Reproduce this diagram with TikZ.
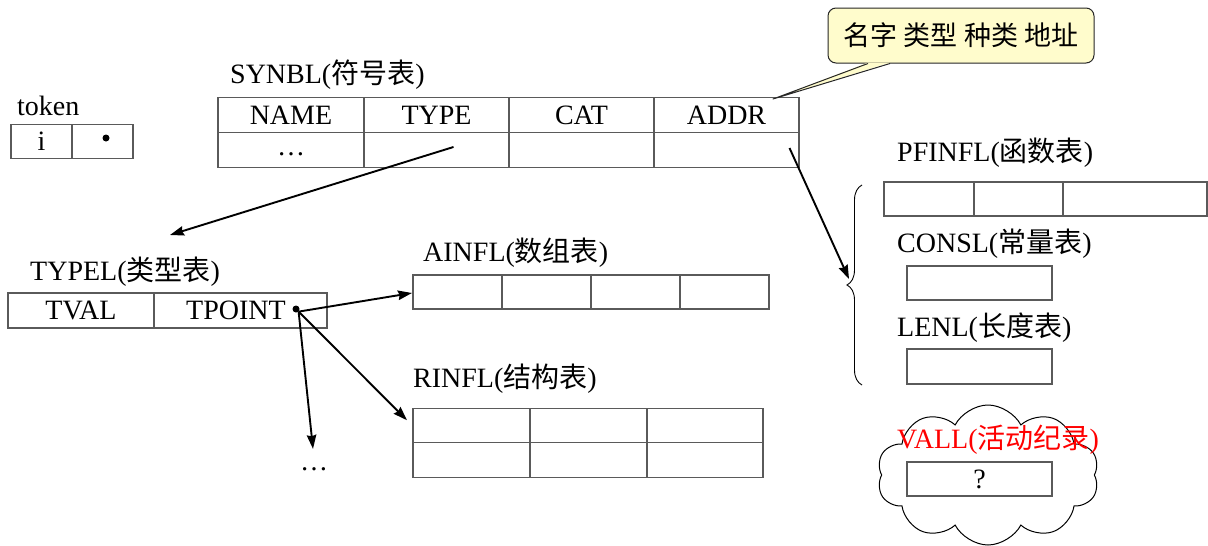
\documentclass[tikz,border=0pt]{standalone}
\usepackage{fontspec}
\setmainfont{Liberation Serif}
\newfontfamily\cjk{Noto Sans CJK SC}
\usetikzlibrary{arrows.meta,shapes.symbols,decorations.pathreplacing}
\definecolor{notefill}{RGB}{255,252,204}
\definecolor{gridline}{RGB}{90,90,90}
\begin{document}
\begin{tikzpicture}[x=1pt,y=-1pt,
  every node/.style={font=\fontsize{28}{32}\selectfont},
  cell/.style={draw=gridline,line width=1.1pt,minimum height=35,inner sep=0,outer sep=0},
  title/.style={anchor=base west,inner sep=0},
  arr/.style={-{Stealth[length=14pt,width=9.5pt,inset=1.5pt]},line width=1.9pt},
  ptr/.style={circle,fill=black,inner sep=0,minimum size=7pt},
  notebox/.style={draw=black!85,fill=notefill,line width=1pt,rounded corners=8pt,
    minimum width=266,minimum height=55,inner sep=0,font=\cjk\fontsize{27}{30}\selectfont}]
\useasboundingbox (0,0) rectangle (1208,546);

% activation record cloud, behind the VALL table
\node[cloud,draw,line width=1pt,cloud puffs=10,cloud puff arc=125,
  minimum width=222,minimum height=140] (cloud) at (988,475) {};

% token
\node[title] (tok) at (17,115) {token};
\node[cell,minimum width=61,minimum height=34] (ti) at (41.5,141.5) {i};
\node[cell,minimum width=61,minimum height=34] (tp) at (102.5,141.5) {};
\node[ptr] (tpd) at (106,138) {};

% SYNBL
\node[title] (synbl) at (230,83) {SYNBL({\cjk 符号表})};
\node[cell,minimum width=146] (sn) at (291,115) {NAME};
\node[cell,minimum width=145] (st) at (436.5,115) {TYPE};
\node[cell,minimum width=145] (sc) at (581.5,115) {CAT};
\node[cell,minimum width=145] (sa) at (726.5,115) {ADDR};
\node[cell,minimum width=146] (sn2) at (291,150) {};
\node[cell,minimum width=145] (st2) at (436.5,150) {};
\node[cell,minimum width=145] (sc2) at (581.5,150) {};
\node[cell,minimum width=145] (sa2) at (726.5,150) {};
\node[inner sep=0] (sdots) at (291,154) {…};

% callout
\node[notebox] (note) at (961,35.5) {名字 类型 种类 地址};
\coordinate (notetip) at ([shift={(-26,1.5)}]sa.north east);
\fill[notefill] ([shift={(-93,-1)}]note.south) -- (notetip) -- ([shift={(-71,-1)}]note.south) -- cycle;
\draw[notefill,line width=1.6pt] ([shift={(-92,0)}]note.south) -- ([shift={(-72,0)}]note.south);
\draw[black!85,line width=1pt,line join=round] ([shift={(-93,0)}]note.south) -- (notetip) -- ([shift={(-71,0)}]note.south);

% TYPEL
\node[title] (typel) at (30,280) {TYPEL({\cjk 类型表})};
\node[cell,minimum width=146] (tv) at (81,310.5) {TVAL};
\node[cell,minimum width=173] (tpt) at (240.5,310.5) {};
\node[inner sep=0] (tptx) at (236,310.5) {TPOINT};
\node[ptr] (tdot) at (296,309) {};

% AINFL
\node[title] (ainfl) at (423,261) {AINFL({\cjk 数组表})};
\node[cell,minimum width=89,minimum height=34] (a1) at (457.5,292) {};
\node[cell,minimum width=89,minimum height=34] (a2) at (546.5,292) {};
\node[cell,minimum width=89,minimum height=34] (a3) at (635.5,292) {};
\node[cell,minimum width=89,minimum height=34] (a4) at (724.5,292) {};

% RINFL
\node[title] (rinfl) at (413,387) {RINFL({\cjk 结构表})};
\node[cell,minimum width=117,minimum height=34.5] (r11) at (471.5,425.5) {};
\node[cell,minimum width=117,minimum height=34.5] (r12) at (588.5,425.5) {};
\node[cell,minimum width=116,minimum height=34.5] (r13) at (705,425.5) {};
\node[cell,minimum width=117,minimum height=34.5] (r21) at (471.5,460) {};
\node[cell,minimum width=117,minimum height=34.5] (r22) at (588.5,460) {};
\node[cell,minimum width=116,minimum height=34.5] (r23) at (705,460) {};

\node[inner sep=0,anchor=base] (more) at (314,470) {…};

% PFINFL, CONSL, LENL, VALL
\node[title] (pfinfl) at (897,161) {PFINFL({\cjk 函数表})};
\node[cell,minimum width=90,minimum height=34] (p1) at (929,199) {};
\node[cell,minimum width=89,minimum height=34] (p2) at (1018.5,199) {};
\node[cell,minimum width=144,minimum height=34] (p3) at (1135,199) {};
\node[title] (consl) at (897,252) {CONSL({\cjk 常量表})};
\node[cell,minimum width=145,minimum height=34] (cbox) at (979.5,283) {};
\node[title] (lenl) at (897,336) {LENL({\cjk 长度表})};
\node[cell,minimum width=145,minimum height=35] (lbox) at (979.5,366.5) {};
\node[title,text=red] (vall) at (897,448) {VALL({\cjk 活动纪录})};
\node[cell,minimum width=145,minimum height=34] (vbox) at (979.5,479) {?};

% brace grouping PFINFL, CONSL and LENL
\draw[decorate,decoration={brace,amplitude=15pt},line width=0.9pt] (862,385) -- (862,185);
\coordinate (btip) at (849,279);

% pointers
\coordinate (tyend) at (170,235);
\draw[arr] ([shift={(17,-3)}]st2.center) -- (tyend);
\draw[arr] ([shift={(63,-2)}]sa2.center) -- (btip);
\draw[arr] (tdot.south east) -- ([shift={(-1,1)}]a1.west);
\draw[arr] (tdot.south east) -- ([shift={(-6,12)}]r11.north west);
\draw[arr] (tdot.south east) -- ([shift={(-1,-18)}]more.north);
\end{tikzpicture}
\end{document}
